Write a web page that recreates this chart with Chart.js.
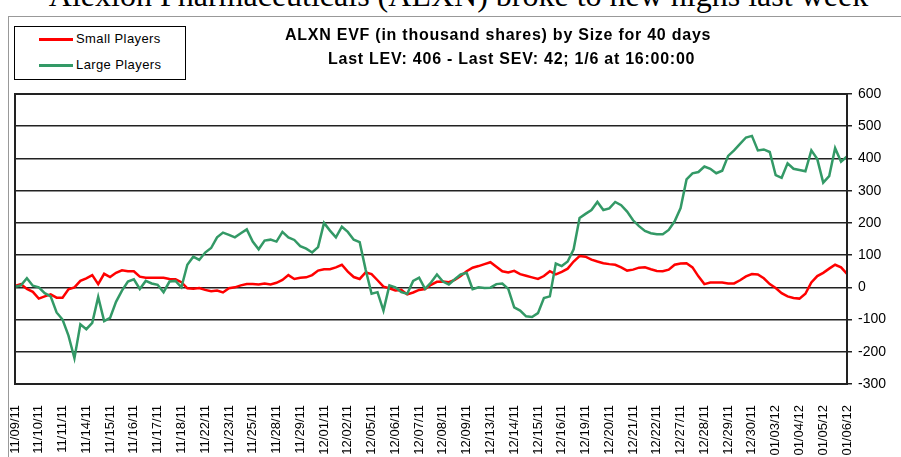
<!DOCTYPE html>
<html>
<head>
<meta charset="utf-8">
<script src="https://cdn.jsdelivr.net/npm/chart.js@4.4.0/dist/chart.umd.min.js"></script>
<style>
    body { margin: 0; background: #fff; width: 901px; height: 457px; overflow: hidden; position: relative; font-family: 'Liberation Sans', Arial, sans-serif; }
    .pageTitle { position: absolute; left: 8px; top: -21px; width: 901px; text-align: center; font: 32px 'Liberation Serif', 'Times New Roman', serif; line-height: 32px; white-space: nowrap; }
    .frame { position: absolute; left: 8px; top: 16px; width: 1000px; height: 1000px; border: 1px solid #999; }
    .chartBox { position: absolute; left: 0; top: 0; width: 901px; height: 457px; }
    .legendBox { position: absolute; left: 14px; top: 26px; width: 170px; height: 52px; border: 1px solid #000; background: #fff; font-size: 13px; letter-spacing: 0.4px; }
    .legendItem { position: absolute; left: 24px; height: 16px; line-height: 16px; white-space: nowrap; }
    .legendItem span { display: inline-block; width: 34px; height: 3px; vertical-align: middle; margin-right: 3px; }
    .chartTitle { position: absolute; font: bold 16px 'Liberation Sans', Arial, sans-serif; letter-spacing: 0.75px; white-space: nowrap; }
</style>
</head>
<body>
<div class="pageTitle">Alexion Pharmaceuticals (ALXN) broke to new highs last week</div>
<div class="frame"></div>
<div class="chartBox"><canvas id="myChart"></canvas></div>
<div class="legendBox">
    <div class="legendItem" style="top:4px"><span style="background:#ff0000"></span>Small Players</div>
    <div class="legendItem" style="top:30px"><span style="background:#339966"></span>Large Players</div>
</div>
<div class="chartTitle" style="left:285px; top:26px">ALXN EVF (in thousand shares) by Size for 40 days</div>
<div class="chartTitle" style="left:328px; top:50px">Last LEV: 406 - Last SEV: 42; 1/6 at 16:00:00</div>

<script>
// trading days shown on the x axis (4 readings per day)
const dates = [
    '11/09/11', '11/10/11', '11/11/11', '11/14/11', '11/15/11', '11/16/11', '11/17/11', '11/18/11',
    '11/22/11', '11/23/11', '11/25/11', '11/28/11', '11/29/11', '12/01/11', '12/02/11', '12/05/11',
    '12/06/11', '12/07/11', '12/08/11', '12/09/11', '12/13/11', '12/14/11', '12/15/11', '12/16/11',
    '12/19/11', '12/20/11', '12/21/11', '12/22/11', '12/27/11', '12/28/11', '12/29/11', '12/30/11',
    '01/03/12', '01/04/12', '01/05/12', '01/06/12'
];
const POINTS_PER_DAY = 4;

// EVF, thousand shares
const smallPlayers = [
    4, 10, -5, -14, -35, -28, -22, -32, -32, -6,
    0, 20, 28, 38, 10, 42, 32, 45, 53, 50,
    50, 33, 30, 30, 30, 30, 26, 25, 16, -3,
    -4, -2, -8, -12, -10, -16, -3, 0, 6, 10,
    10, 9, 12, 9, 14, 23, 38, 26, 30, 31,
    38, 52, 56, 56, 62, 70, 49, 32, 26, 46,
    41, 22, 2, -3, -10, -8, -22, -16, -8, -5,
    8, 17, 18, 16, 23, 35, 50, 61, 66, 72,
    78, 64, 50, 46, 51, 41, 36, 31, 26, 35,
    50, 40, 48, 58, 80, 97, 95, 86, 80, 75,
    72, 70, 62, 52, 55, 61, 62, 56, 51, 50,
    55, 70, 74, 75, 62, 34, 10, 15, 15, 15,
    12, 12, 22, 34, 41, 40, 28, 10, -2, -18,
    -28, -33, -35, -20, 15, 35, 45, 58, 70, 62,
    42
];
const largePlayers = [
    2, 6, 28, 5, 0, -18, -28, -78, -100, -150,
    -220, -115, -130, -110, -30, -105, -95, -45, -10, 18,
    25, -5, 20, 12, 8, -15, 18, 20, 0, 70,
    95, 85, 108, 122, 155, 170, 163, 155, 168, 180,
    142, 118, 145, 148, 142, 172, 155, 147, 128, 120,
    108, 125, 200, 176, 155, 188, 172, 148, 140, 55,
    -20, -15, -72, 6, 0, -15, -20, 20, 30, -5,
    15, 40, 18, 9, 25, 40, 45, -6, 0, -2,
    -1, 10, 12, -5, -62, -72, -90, -92, -80, -33,
    -28, 74, 66, 80, 118, 215, 228, 240, 265, 240,
    245, 265, 255, 235, 208, 190, 175, 168, 165, 165,
    178, 205, 246, 335, 354, 358, 375, 368, 354, 362,
    408, 425, 445, 465, 470, 425, 428, 420, 348, 340,
    385, 368, 364, 360, 425, 398, 325, 345, 432, 390,
    406
];
const yTicks = [600, 500, 400, 300, 200, 100, 0, -100, -200, -300];

window.addEventListener('DOMContentLoaded', () => {

    // one label per reading, only the first reading of a day gets the date
    const labels = smallPlayers.map((v, i) => (i % POINTS_PER_DAY === 0 ? dates[i / POINTS_PER_DAY] || '' : ''));

    const plotFrame = {
        id: 'plotFrame',
        afterDatasetsDraw(chart) {
            const { ctx, chartArea } = chart;
            ctx.save();
            ctx.strokeStyle = '#222';
            ctx.lineWidth = 2;
            ctx.strokeRect(chartArea.left, chartArea.top, chartArea.right - chartArea.left, chartArea.bottom - chartArea.top);
            ctx.restore();
        }
    };

    const data = {
        labels: labels,
        datasets: [{
            label: 'Small Players',
            data: smallPlayers,
            borderColor: '#ff0000',
            borderWidth: 2.5,
            pointRadius: 0,
            order: 1,
        }, {
            label: 'Large Players',
            data: largePlayers,
            borderColor: '#339966',
            borderWidth: 2.5,
            pointRadius: 0,
            order: 0,
        }],
    };

    const config = {
        type: 'line',
        data: data,
        plugins: [plotFrame],
        options: {
            animation: false,
            responsive: true,
            maintainAspectRatio: false,
            layout: { padding: { left: 15, top: 94, right: 0, bottom: 0 } },
            plugins: {
                legend: false,
                tooltip: false,
            },
            scales: {
                x: {
                    grid: { display: false },
                    border: { display: false },
                    ticks: {
                        autoSkip: false,
                        minRotation: 90,
                        maxRotation: 90,
                        padding: 13,
                        color: '#000',
                        font: { family: "'Liberation Sans', Arial, sans-serif", size: 13 },
                    },
                    afterFit: (scale) => { scale.height = 73; },
                },
                y: {
                    position: 'right',
                    min: -300,
                    max: 600,
                    afterBuildTicks: (scale) => { scale.ticks = yTicks.map(v => ({ value: v })); },
                    grid: {
                        color: '#222',
                        lineWidth: 1.5,
                        tickLength: 5,
                    },
                    border: { display: false },
                    ticks: {
                        padding: 6,
                        color: '#000',
                        font: { family: "'Liberation Sans', Arial, sans-serif", size: 14 },
                    },
                    afterFit: (scale) => { scale.width = 54; },
                },
            },
        },
    };

    const myChart = new Chart(
        document.getElementById('myChart'),
        config
    );

});
</script>
</body>
</html>
